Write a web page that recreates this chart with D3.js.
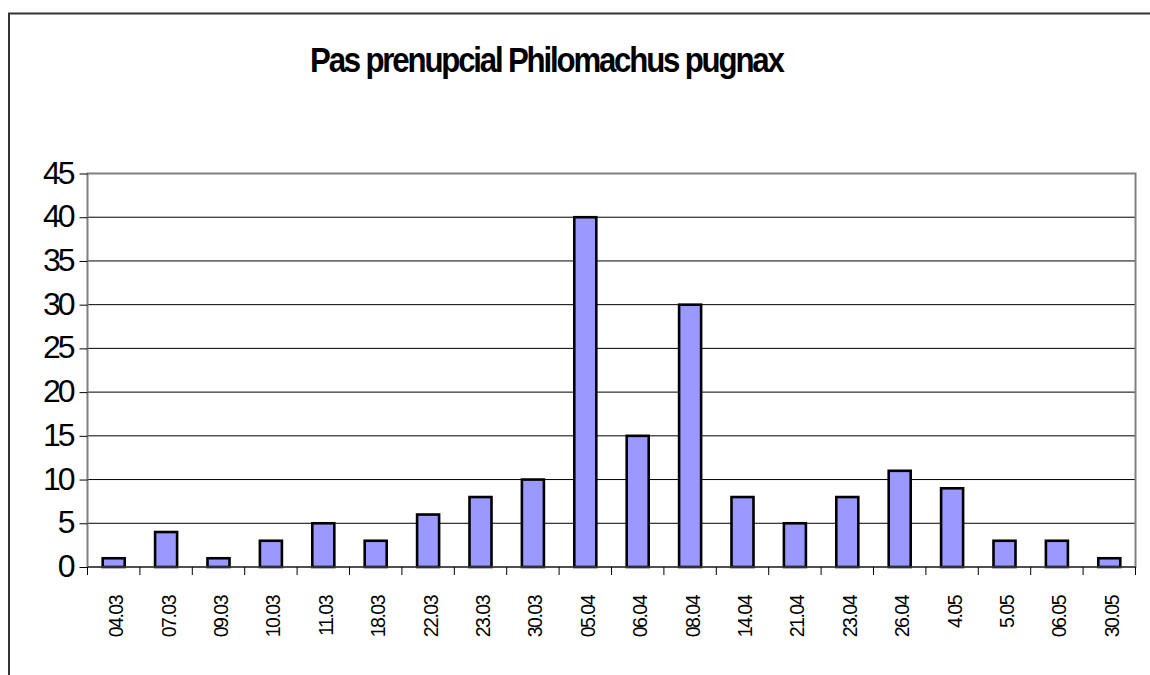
<!DOCTYPE html>
<html>
<head>
<meta charset="utf-8">
<script src="https://cdn.jsdelivr.net/npm/d3@7"></script>
<style>
  body { margin: 0; background: #fff; }
  text { font-family: "Liberation Sans", Arial, sans-serif; }
</style>
</head>
<body>
<div id="chart"></div>
<script>
// data
const dates = ["04.03", "07.03", "09.03", "10.03", "11.03", "18.03", "22.03", "23.03", "30.03", "05.04",
    "06.04", "08.04", "14.04", "21.04", "23.04", "26.04", "4.05", "5.05", "06.05", "30.05"];
const counts = [1, 4, 1, 3, 5, 3, 6, 8, 10, 40, 15, 30, 8, 5, 8, 11, 9, 3, 3, 1];
const yTicks = [0, 5, 10, 15, 20, 25, 30, 35, 40, 45];
const title = "Pas prenupcial Philomachus pugnax";

const width = 1150, height = 675;
const margin = { top: 173.5, right: 14.5, bottom: 108, left: 87.5 };

const svg = d3.select("#chart")
    .append("svg")
    .attr("width", width)
    .attr("height", height);

// outer chart frame (runs off the right and bottom of the picture)
svg.append("rect")
    .attr("x", 9)
    .attr("y", 13.5)
    .attr("width", 1200)
    .attr("height", 700)
    .attr("fill", "none")
    .attr("stroke", "#333")
    .attr("stroke-width", 2);

// title: tight letters, squeezed to the original width
const titleText = svg.append("text")
    .attr("x", 0)
    .attr("y", 0)
    .style("font-size", "34.5px")
    .style("font-weight", "bold")
    .style("letter-spacing", "-2.4px")
    .text(title);
const tw = titleText.node().getBBox().width;
titleText.attr("transform", `translate(310,71.5) scale(${475 / tw},1)`);

const x = d3.scaleBand()
    .domain(dates)
    .range([margin.left, width - margin.right])
    .paddingInner(0.58)
    .paddingOuter(0.29);

const y = d3.scaleLinear()
    .domain([0, 45])
    .range([height - margin.bottom, margin.top]);

// gridlines
svg.append("g")
    .selectAll("line")
    .data(yTicks.filter(d => d > 0 && d < 45))
    .join("line")
    .attr("x1", margin.left)
    .attr("x2", width - margin.right)
    .attr("y1", d => y(d))
    .attr("y2", d => y(d))
    .attr("stroke", "#000")
    .attr("stroke-width", 1);

// plot area border
svg.append("rect")
    .attr("x", margin.left)
    .attr("y", margin.top)
    .attr("width", width - margin.right - margin.left)
    .attr("height", height - margin.bottom - margin.top)
    .attr("fill", "none")
    .attr("stroke", "#808080")
    .attr("stroke-width", 2);

// bars
svg.append("g")
    .selectAll("rect")
    .data(counts)
    .join("rect")
    .attr("x", (d, i) => x(dates[i]))
    .attr("y", d => y(d))
    .attr("width", x.bandwidth())
    .attr("height", d => y(0) - y(d))
    .attr("fill", "#9999ff")
    .attr("stroke", "#000")
    .attr("stroke-width", 2.6);

// y axis
const yAxis = svg.append("g")
    .attr("transform", `translate(${margin.left},0)`)
    .call(d3.axisLeft(y).tickValues(yTicks).tickSize(8).tickPadding(5).tickFormat(d3.format("d")));
yAxis.select(".domain").remove();
yAxis.selectAll("line").attr("stroke", "#000");
yAxis.selectAll("text")
    .attr("x", -15)
    .attr("dy", "0.3em")
    .style("font-size", "32px")
    .style("letter-spacing", "-3px")
    .attr("fill", "#000");

// x axis: ticks at category boundaries
const bounds = d3.range(dates.length + 1).map(i => margin.left + i * (width - margin.right - margin.left) / dates.length);
svg.append("line")
    .attr("x1", margin.left)
    .attr("x2", width - margin.right)
    .attr("y1", y(0))
    .attr("y2", y(0))
    .attr("stroke", "#404040")
    .attr("stroke-width", 1.5);
svg.append("g")
    .selectAll("line")
    .data(bounds)
    .join("line")
    .attr("x1", d => d)
    .attr("x2", d => d)
    .attr("y1", y(0))
    .attr("y2", y(0) + 8)
    .attr("stroke", "#000");

svg.append("g")
    .selectAll("text")
    .data(dates)
    .join("text")
    .attr("transform", d => `translate(${x(d) + x.bandwidth() / 2 + 9.5},${y(0) + 29}) rotate(-90)`)
    .attr("text-anchor", "end")
    .style("font-size", "19.5px")
    .style("letter-spacing", "-1.5px")
    .text(d => d);
</script>
</body>
</html>
